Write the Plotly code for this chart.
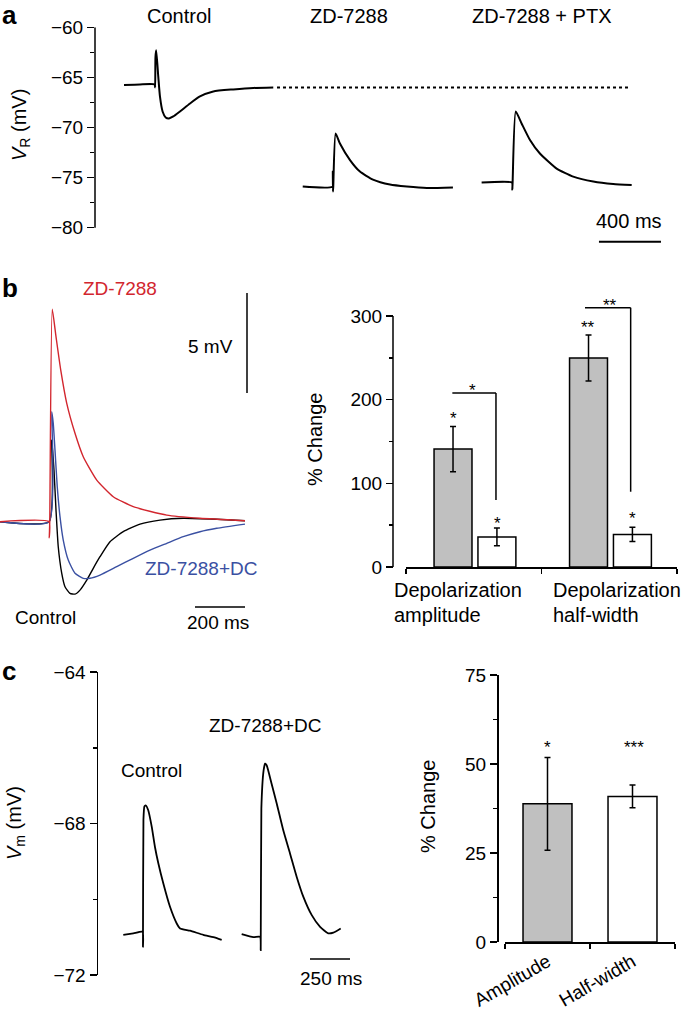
import plotly.graph_objects as go

W, H = 685, 1017
FONT = "Liberation Sans, Arial, sans-serif"
RED = "rgb(210,38,46)"
BLUE = "rgb(58,80,162)"
GREY = "rgb(192,192,192)"


def px(x):
    return x / W


def py(y):
    return 1 - y / H


# ---------------- data: panel a (time in ms, V in mV) ----------------
a_ctrl_t = [187, 290, 385, 388, 390, 395, 408, 419, 436, 456, 477, 505, 548, 613, 677, 763, 892, 1021, 1150]
a_ctrl_v = [-65.75, -65.7, -65.7, -66.0, -63.0, -62.3, -64.9, -66.9, -68.4, -69.0, -69.1, -68.9, -68.4,
            -67.6, -66.9, -66.4, -66.2, -66.05, -66.0]
a_ref_t = [1174, 3451]
a_ref_v = [-66.0, -66.0]
a_zd_t = [1340, 1533, 1534, 1535, 1537, 1552, 1580, 1645, 1709, 1793, 1903, 2012, 2141, 2309]
a_zd_v = [-75.9, -75.9, -74.4, -76.4, -75.9, -70.6, -71.6, -73.25, -74.4, -75.2, -75.7, -75.9, -76.05, -76.0]
a_ptx_t = [2494, 2690, 2692, 2694, 2714, 2752, 2806, 2870, 2978, 3085, 3214, 3343, 3462]
a_ptx_v = [-75.5, -75.5, -76.2, -75.5, -68.4, -69.6, -71.25, -72.6, -74.1, -74.9, -75.4, -75.65, -75.75]
a_yticks = [-80, -75, -70, -65, -60]

# ---------------- data: panel b traces (ms, mV relative to baseline) ----------------
b_red_t = [0, 196, 197, 199, 209, 224, 243, 267, 300, 333, 387, 453, 533, 667, 800, 980]
b_red_v = [0, 0, -0.8, 0, 10.62, 9.25, 7.58, 5.92, 4.42, 3.25, 2.08, 1.25, 0.75, 0.33, 0.17, 0.05]
b_blue_t = [0, 196, 207, 213, 220, 229, 240, 253, 273, 300, 333, 360, 400, 467, 533, 600, 667, 733, 800, 867, 980]
b_blue_v = [0, 0, 5.5, 4.92, 3.58, 1.75, 0.25, -0.92, -1.92, -2.58, -2.83, -2.83, -2.67, -2.25, -1.83,
            -1.42, -1.08, -0.75, -0.5, -0.33, -0.12]
b_blk_t = [0, 196, 207, 216, 224, 233, 247, 260, 280, 300, 320, 347, 373, 400, 440, 493, 560, 640, 733, 867, 980]
b_blk_v = [0, 0, 4.08, 2.58, 0.58, -1.25, -2.58, -3.25, -3.58, -3.62, -3.42, -2.92, -2.33, -1.75, -1.0,
           -0.5, -0.12, 0.08, 0.17, 0.12, 0.05]

# ---------------- data: panel b bars ----------------
b_cats = ["Depolarization amplitude", "Depolarization half-width"]
b_zd = [141, 250]
b_zd_err = [27, 27.5]
b_dc = [36, 39]
b_dc_err = [10.7, 8.5]
b_yticks = [0, 100, 200, 300]

# ---------------- data: panel c traces ----------------
c_ctrl_t = [158, 221, 279, 281, 284, 290, 298, 314, 336, 356, 377, 408, 450, 492, 513, 575, 658, 721, 773]
c_ctrl_v = [-70.94, -70.9, -70.86, -71.25, -67.9, -67.55, -67.52, -67.65, -68.09, -68.62, -69.05, -69.58,
            -70.2, -70.64, -70.77, -70.83, -70.94, -71.0, -71.07]
c_dc_t = [898, 971, 1013, 1017, 1021, 1035, 1044, 1054, 1085, 1117, 1158, 1200, 1242, 1283, 1336, 1388,
          1439, 1471, 1517]
c_dc_v = [-70.92, -71.0, -70.99, -71.34, -67.6, -66.6, -66.42, -66.46, -66.95, -67.47, -68.18, -68.79,
          -69.41, -69.93, -70.42, -70.73, -70.9, -70.88, -70.77]
c_yticks = [-72, -68, -64]

# ---------------- data: panel c bars ----------------
c_cats = ["Amplitude", "Half-width"]
c_vals = [38.8, 40.9]
c_err = [13.0, 3.2]
c_yticks_bar = [0, 25, 50, 75]

fig = go.Figure()

SMOOTH = dict(shape="spline", smoothing=0.5)

# panel a traces
for t, v in [(a_ctrl_t, a_ctrl_v), (a_zd_t, a_zd_v), (a_ptx_t, a_ptx_v)]:
    fig.add_trace(go.Scatter(x=t, y=v, mode="lines", line=dict(color="black", width=2, **SMOOTH),
                             xaxis="x", yaxis="y", hoverinfo="skip"))
fig.add_trace(go.Scatter(x=a_ref_t, y=a_ref_v, mode="lines", line=dict(color="black", width=2, dash="dot"),
                         xaxis="x", yaxis="y", hoverinfo="skip"))

# panel b traces
fig.add_trace(go.Scatter(x=b_blk_t, y=b_blk_v, mode="lines", line=dict(color="black", width=1.4, **SMOOTH),
                         xaxis="x2", yaxis="y2"))
fig.add_trace(go.Scatter(x=b_blue_t, y=b_blue_v, mode="lines", line=dict(color=BLUE, width=1.4, **SMOOTH),
                         xaxis="x2", yaxis="y2"))
fig.add_trace(go.Scatter(x=b_red_t, y=b_red_v, mode="lines", line=dict(color=RED, width=1.4, **SMOOTH),
                         xaxis="x2", yaxis="y2"))

# panel b bars
fig.add_trace(go.Bar(x=b_cats, y=b_zd, width=0.28, offset=-0.293,
                     marker=dict(color=GREY, line=dict(color="black", width=1.5)),
                     error_y=dict(type="data", array=b_zd_err, color="black", thickness=1.5, width=3),
                     xaxis="x3", yaxis="y3"))
fig.add_trace(go.Bar(x=b_cats, y=b_dc, width=0.28, offset=0.031,
                     marker=dict(color="white", line=dict(color="black", width=1.5)),
                     error_y=dict(type="data", array=b_dc_err, color="black", thickness=1.5, width=3),
                     xaxis="x3", yaxis="y3"))

# panel c traces
for t, v in [(c_ctrl_t, c_ctrl_v), (c_dc_t, c_dc_v)]:
    fig.add_trace(go.Scatter(x=t, y=v, mode="lines", line=dict(color="black", width=1.8, **SMOOTH),
                             xaxis="x4", yaxis="y4"))

# panel c bars
fig.add_trace(go.Bar(x=c_cats, y=c_vals, width=0.576, offset=-0.288,
                     marker=dict(color=[GREY, "white"], line=dict(color="black", width=1.5)),
                     error_y=dict(type="data", array=c_err, color="black", thickness=1.5, width=3),
                     xaxis="x5", yaxis="y5"))

tick_common = dict(showgrid=False, zeroline=False, ticks="outside", ticklen=7, tickwidth=1.5,
                   tickcolor="black", tickfont=dict(size=19, color="black"), automargin=False)

def minor(vals):
    return dict(tickvals=vals, ticks="outside", ticklen=4, tickwidth=1.5, tickcolor="black", showgrid=False)

fig.update_layout(
    template="none",
    width=W, height=H, autosize=False, margin=dict(l=0, r=0, t=0, b=0, pad=0, autoexpand=False),
    paper_bgcolor="white", plot_bgcolor="rgba(0,0,0,0)", showlegend=False,
    font=dict(family=FONT, size=19, color="black"),
    barmode="overlay",
    xaxis=dict(domain=[px(95), 1], range=[0, 3806], visible=False, anchor="y", automargin=False),
    yaxis=dict(domain=[py(247.7), py(27.3)], range=[-82, -60], anchor="x", showline=False,
               tickvals=a_yticks, minor=minor([-77.5, -72.5, -67.5, -62.5]), **tick_common),
    xaxis2=dict(domain=[0, px(250)], range=[0, 1000], visible=False, anchor="y2", automargin=False),
    yaxis2=dict(domain=[py(640), py(290)], range=[-5.915, 11.585], visible=False, anchor="x2",
                automargin=False),
    xaxis3=dict(domain=[px(406), px(677)], type="category", categoryorder="array", categoryarray=b_cats,
                range=[-0.5, 1.5], anchor="y3", showline=True, linecolor="black", linewidth=1.5,
                ticks="outside", tickson="boundaries", ticklen=5, tickwidth=1.5, tickcolor="black",
                showticklabels=False, showgrid=False, zeroline=False, automargin=False),
    yaxis3=dict(domain=[py(567), py(291)], range=[0, 330], anchor="free", position=px(393), showline=False,
                tickvals=b_yticks, minor=minor([50, 150, 250]), **tick_common),
    xaxis4=dict(domain=[px(98), px(390)], range=[0, 1825], visible=False, anchor="y4", automargin=False),
    yaxis4=dict(domain=[py(975), py(672)], range=[-72, -64], anchor="x4", showline=True, linecolor="black",
                linewidth=1.5, tickvals=c_yticks, minor=minor([-70, -66]), **tick_common),
    xaxis5=dict(domain=[px(505), px(675)], type="category", categoryorder="array", categoryarray=c_cats,
                range=[-0.5, 1.5], anchor="y5", showline=True, linecolor="black", linewidth=1.5,
                ticks="outside", tickson="boundaries", ticklen=5, tickwidth=1.5, tickcolor="black",
                tickangle=-30, tickfont=dict(size=19, color="black"), showgrid=False, zeroline=False,
                automargin=False),
    yaxis5=dict(domain=[py(942), py(675)], range=[0, 75], anchor="free", position=px(497), showline=True,
                linecolor="black", linewidth=1.5, tickvals=c_yticks_bar, minor=minor([12.5, 37.5, 62.5]),
                **tick_common),
)

shapes = []
# panel a axis line + scale bar
shapes.append(dict(type="line", xref="paper", yref="y", x0=px(95), x1=px(95), y0=-80, y1=-60,
                   line=dict(color="black", width=1.5)))
shapes.append(dict(type="line", xref="x", yref="y", x0=3251, x1=3651, y0=-81.4, y1=-81.4,
                   line=dict(color="black", width=2)))
# panel b scale bars
shapes.append(dict(type="line", xref="x2", yref="y2", x0=988, x1=988, y0=6.435, y1=11.435,
                   line=dict(color="black", width=1.5)))
shapes.append(dict(type="line", xref="x2", yref="y2", x0=780, x1=980, y0=-4.27, y1=-4.27,
                   line=dict(color="black", width=1.5)))
# panel b bar axis line + brackets
shapes.append(dict(type="line", xref="paper", yref="y3", x0=px(393), x1=px(393), y0=0, y1=300,
                   line=dict(color="black", width=1.5)))
for x0, x1, ytop, ybot in [(-0.158, 0.164, 208, 80), (0.821, 1.158, 310, 90)]:
    shapes.append(dict(type="line", xref="x3", yref="y3", x0=x0, x1=x1, y0=ytop, y1=ytop,
                       line=dict(color="black", width=1.5)))
    shapes.append(dict(type="line", xref="x3", yref="y3", x0=x1, x1=x1, y0=ytop, y1=ybot,
                       line=dict(color="black", width=1.5)))
# panel c scale bar
shapes.append(dict(type="line", xref="x4", yref="y4", x0=1325, x1=1575, y0=-71.58, y1=-71.58,
                   line=dict(color="black", width=1.5)))
fig.update_layout(shapes=shapes)

ann = []

def text(x, y, s, size=19, color="black", xanchor="center", yanchor="middle", angle=0, align="center"):
    ann.append(dict(xref="paper", yref="paper", x=px(x), y=py(y), text=s, showarrow=False,
                    font=dict(size=size, color=color, family=FONT), xanchor=xanchor, yanchor=yanchor,
                    textangle=angle, align=align))

# panel letters
text(9, 15, "<b>a</b>", size=26)
text(10, 288, "<b>b</b>", size=26)
text(9, 671, "<b>c</b>", size=26)
# panel a
text(179, 16, "Control", size=20)
text(349, 16, "ZD-7288", size=20)
text(542, 16, "ZD-7288 + PTX", size=20)
text(629, 221, "400 ms", size=20)
text(20, 125, "<i>V</i><sub>R</sub> (mV)", size=20, angle=-90)
# panel b left
text(120, 288, "ZD-7288", size=19, color=RED)
text(235, 347, "5 mV", size=19, xanchor="right")
text(259, 568, "ZD-7288+DC", size=19, color=BLUE, xanchor="right")
text(45, 617, "Control", size=19)
text(218, 622, "200 ms", size=19)
# panel b right
text(315, 440, "% Change", size=20, angle=-90)
text(392, 590, "Depolarization", size=20, xanchor="left")
text(392, 615, "amplitude", size=20, xanchor="left")
text(551, 590, "Depolarization", size=20, xanchor="left")
text(551, 615, "half-width", size=20, xanchor="left")
for x, y, s in [(453, 418, "*"), (497, 523, "*"), (588, 328, "**"), (632, 518, "*"), (473, 390, "*"),
                (610, 305, "**")]:
    text(x, y, s, size=17)
# panel c left
text(15, 823, "<i>V</i><sub>m</sub> (mV)", size=20, angle=-90)
text(151, 770, "Control", size=19)
text(265, 725, "ZD-7288+DC", size=19)
text(331, 978, "250 ms", size=19)
# panel c right
text(428, 807, "% Change", size=20, angle=-90)
text(547, 747, "*", size=17)
text(634, 747, "***", size=17)

fig.update_layout(annotations=ann)
fig.write_html("out.html", config={"displayModeBar": False, "staticPlot": True},
               post_script="document.body.style.margin='0';document.body.style.overflow='hidden';")
